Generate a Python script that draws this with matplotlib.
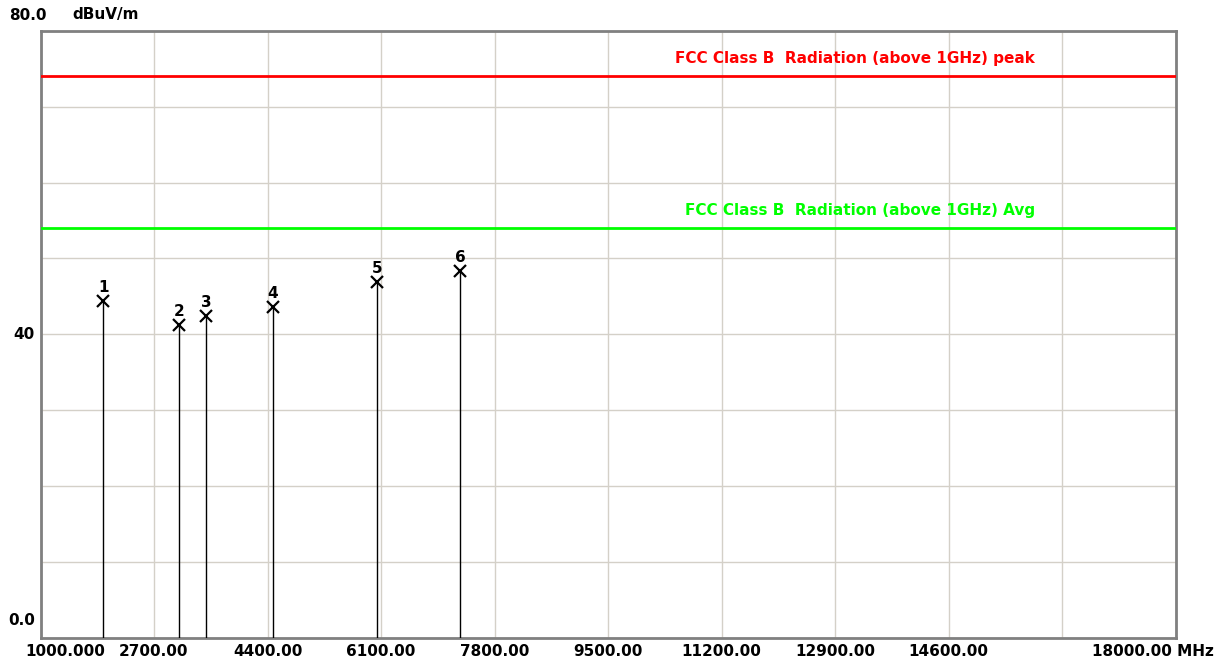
import matplotlib
matplotlib.use("Agg")
import matplotlib.pyplot as plt
from matplotlib.transforms import offset_copy

# marker readings (MHz, dBuV/m)
freqs = [1941, 3074, 3479, 4478, 6045, 7283]
levels = [44.4, 41.2, 42.4, 43.6, 46.9, 48.3]
marker_ids = ['1', '2', '3', '4', '5', '6']

# limit lines
limit_names = ['FCC Class B  Radiation (above 1GHz) peak',
               'FCC Class B  Radiation (above 1GHz) Avg']
limit_values = [74, 54]
limit_colors = ['#ff0000', '#00ff00']

xticks = [1000, 2700, 4400, 6100, 7800, 9500, 11200, 12900, 14600, 16300, 18000]
xlabels = ['1000.000', '2700.00', '4400.00', '6100.00', '7800.00', '9500.00',
           '11200.00', '12900.00', '14600.00', '', '18000.00 MHz']
yticks = [0, 10, 20, 30, 40, 50, 60, 70, 80]

plt.rcParams['font.family'] = ['DejaVu Sans']
fs = 11

fig = plt.figure(figsize=(12.24, 6.64), dpi=100)
ax = fig.add_axes([40.5 / 1224, 26.5 / 664, 1135 / 1224, 606.5 / 664])
ax.set_xlim(1000, 18000)
ax.set_ylim(0, 80)

ax.set_xticks(xticks)
ax.set_yticks(yticks)
ax.tick_params(length=0, labelbottom=False, labelleft=False)
ax.grid(True, color='#d4d0c8', lw=1)
ax.set_axisbelow(True)
for s in ax.spines.values():
    s.set_color('#808080')
    s.set_linewidth(2)

# limit lines and their names
for name, val, col in zip(limit_names, limit_values, limit_colors):
    ax.axhline(val, color=col, lw=2, zorder=3)
    tr = offset_copy(ax.get_yaxis_transform(), fig=fig, x=0, y=10, units='dots')
    ax.text(0.876, val, name, color=col, fontsize=fs, fontweight='bold',
            ha='right', va='bottom', transform=tr)

# markers with stems
ax.vlines(freqs, 0, levels, color='black', lw=1, zorder=4)
ax.plot(freqs, levels, 'x', color='black', ms=8.5, mew=1.6, zorder=5)
for f, v, m in zip(freqs, levels, marker_ids):
    tr = offset_copy(ax.transData, fig=fig, x=0, y=6, units='dots')
    ax.text(f, v, m, fontsize=fs, fontweight='bold', ha='center', va='bottom',
            transform=tr)

# x labels
xtr = ax.get_xaxis_transform()
for i, (t, lab) in enumerate(zip(xticks, xlabels)):
    if not lab:
        continue
    if i == 0:
        tr, ha = offset_copy(xtr, fig=fig, x=-15, y=-14.5, units='dots'), 'left'
    elif i == len(xticks) - 1:
        tr, ha = offset_copy(xtr, fig=fig, x=38, y=-14.5, units='dots'), 'right'
    else:
        tr, ha = offset_copy(xtr, fig=fig, x=0, y=-14.5, units='dots'), 'center'
    ax.text(t, 0, lab, fontsize=fs, fontweight='bold', ha=ha, va='center',
            transform=tr)

# y labels
ytr = ax.get_yaxis_transform()
ax.text(0, 40, '40', fontsize=fs, fontweight='bold', ha='right', va='center',
        transform=offset_copy(ytr, fig=fig, x=-5.5, y=0, units='dots'))
ax.text(0, 0, '0.0', fontsize=fs, fontweight='bold', ha='right', va='center',
        transform=offset_copy(ytr, fig=fig, x=-5.5, y=17, units='dots'))
ax.text(0, 80, '80.0', fontsize=fs, fontweight='bold', ha='left', va='center',
        transform=offset_copy(ytr, fig=fig, x=-31.5, y=16, units='dots'))
ax.text(0, 80, 'dBuV/m', fontsize=fs, fontweight='bold', ha='left', va='center',
        transform=offset_copy(ytr, fig=fig, x=31.5, y=16, units='dots'))

fig.savefig('out.png', dpi=100)
